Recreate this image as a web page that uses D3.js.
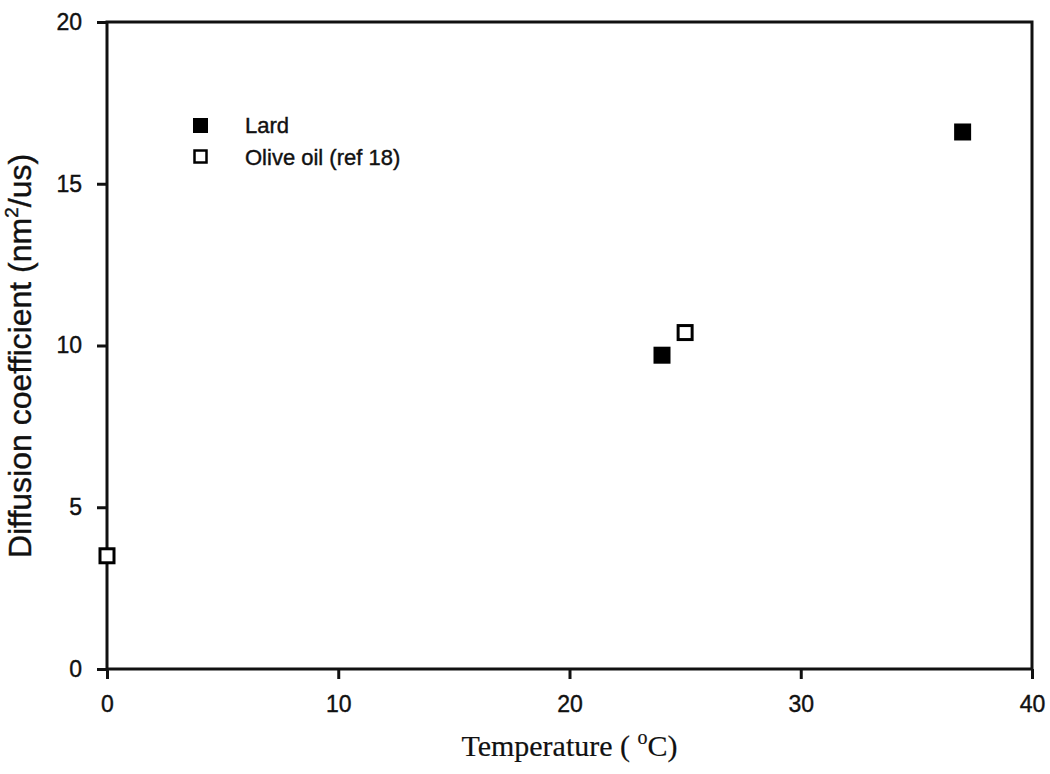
<!DOCTYPE html>
<html>
<head>
<meta charset="utf-8">
<script src="https://cdn.jsdelivr.net/npm/d3@7"></script>
<style>
  body { margin: 0; background: #fff; }
  svg text { font-family: "Liberation Sans", Arial, sans-serif; fill: #111; stroke: #111; stroke-width: 0.4px; }
</style>
</head>
<body>
<svg id="chart" width="1050" height="774"></svg>
<script>
// data
var lardTemp = [24, 37];
var lardDiff = [9.7, 16.6];
var oliveTemp = [0, 25];
var oliveDiff = [3.5, 10.4];
var xTicks = [0, 10, 20, 30, 40];
var yTicks = [0, 5, 10, 15, 20];
var legendLabels = ["Lard", "Olive oil (ref 18)"];

var margin = {top: 22, right: 18, bottom: 105, left: 107};
var w = 1050, h = 774;

var svg = d3.select("#chart");

var x = d3.scaleLinear().domain([0, 40]).range([margin.left, w - margin.right]);
var y = d3.scaleLinear().domain([0, 20]).range([h - margin.bottom, margin.top]);

// frame
svg.append("rect")
  .attr("x", x(0)).attr("y", y(20))
  .attr("width", x(40) - x(0)).attr("height", y(0) - y(20))
  .attr("fill", "none").attr("stroke", "#111").attr("stroke-width", 3);

var xAxis = svg.append("g")
  .attr("transform", "translate(0," + y(0) + ")")
  .call(d3.axisBottom(x).tickValues(xTicks).tickSize(10).tickPadding(17).tickFormat(d3.format("d")));
var yAxis = svg.append("g")
  .attr("transform", "translate(" + x(0) + ",0)")
  .call(d3.axisLeft(y).tickValues(yTicks).tickSize(10).tickPadding(15).tickFormat(d3.format("d")));

[xAxis, yAxis].forEach(function(g){
  g.select(".domain").remove();
  g.selectAll(".tick line").attr("stroke", "#111").attr("stroke-width", 3);
  g.selectAll(".tick text").attr("font-size", 23).attr("font-family", "Liberation Sans, Arial, sans-serif").attr("fill", "#111");
});

// axis titles
var yt = svg.append("text")
  .attr("transform", "translate(31,356) rotate(-90)")
  .attr("text-anchor", "middle")
  .attr("font-size", 32);
yt.append("tspan").text("Diffusion coefficient (nm");
yt.append("tspan").attr("font-size", 19).attr("dy", -13).text("2");
yt.append("tspan").attr("dy", 13).text("/us)");

var xt = svg.append("text")
  .attr("x", x(20))
  .attr("y", 756)
  .attr("text-anchor", "middle")
  .attr("font-size", 30)
  .style("font-family", "Liberation Serif, Times New Roman, serif")
  .style("stroke-width", "0.2px");
xt.append("tspan").text("Temperature ( ");
xt.append("tspan").attr("font-size", 20).attr("dy", -12).text("o");
xt.append("tspan").attr("dy", 12).text("C)");

var sz = 17;
// lard points
svg.selectAll(".lard")
  .data(d3.zip(lardTemp, lardDiff))
  .enter().append("rect")
  .attr("class", "lard")
  .attr("x", function(d){ return x(d[0]) - sz/2; })
  .attr("y", function(d){ return y(d[1]) - sz/2; })
  .attr("width", sz).attr("height", sz)
  .attr("fill", "#000");

// olive oil points
svg.selectAll(".olive")
  .data(d3.zip(oliveTemp, oliveDiff))
  .enter().append("rect")
  .attr("class", "olive")
  .attr("x", function(d){ return x(d[0]) - (sz-3)/2; })
  .attr("y", function(d){ return y(d[1]) - (sz-3)/2; })
  .attr("width", sz - 3).attr("height", sz - 3)
  .attr("fill", "#fff").attr("stroke", "#000").attr("stroke-width", 3);

// legend
var leg = svg.append("g").attr("transform", "translate(201,126)");
leg.append("rect").attr("x", -8).attr("y", -8).attr("width", 15).attr("height", 15).attr("fill", "#000");
leg.append("rect").attr("x", -6.5).attr("y", 24.5).attr("width", 12).attr("height", 12)
  .attr("fill", "#fff").attr("stroke", "#000").attr("stroke-width", 2.5);
leg.selectAll(".lt").data(legendLabels).enter().append("text")
  .attr("x", 44).attr("y", function(d, i){ return 7 + i * 32; })
  .attr("font-size", 22)
  .text(function(d){ return d; });
</script>
</body>
</html>
